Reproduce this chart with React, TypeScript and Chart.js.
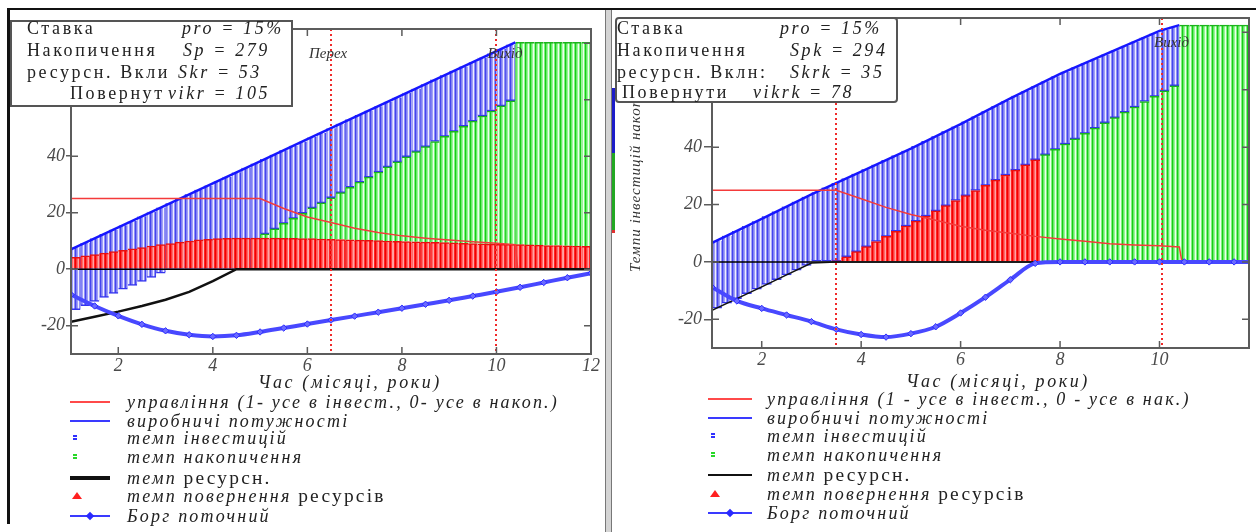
import React, { useEffect, useRef } from "react";
import { Chart, registerables } from "chart.js";

Chart.register(...registerables);

// ---------------- data ----------------
const barX = [1.1, 1.3, 1.5, 1.7, 1.9, 2.1, 2.3, 2.5, 2.7, 2.9, 3.1, 3.3, 3.5, 3.7, 3.9, 4.1, 4.3, 4.5, 4.7, 4.9, 5.1, 5.3, 5.5, 5.7, 5.9, 6.1, 6.3, 6.5, 6.7, 6.9, 7.1, 7.3, 7.5, 7.7, 7.9, 8.1, 8.3, 8.5, 8.7, 8.9, 9.1, 9.3, 9.5, 9.7, 9.9, 10.1, 10.3, 10.5, 10.7, 10.9, 11.1, 11.3, 11.5, 11.7, 11.9];
const lineX = [1, 1.5, 2, 2.5, 3, 3.5, 4, 4.5, 5, 5.5, 6, 6.5, 7, 7.5, 8, 8.5, 9, 9.5, 10, 10.5, 11, 11.5, 12];
const ctrlX = [1, 2, 3, 3.5, 4, 4.5, 5, 5.5, 6, 6.5, 7, 7.5, 8, 8.5, 9, 9.5, 10, 10.4, 10.45, 12];
const capX = [1, 2, 3, 4, 5, 6, 7, 8, 9, 10, 10.4];
const yTicks = [-20, 0, 20, 40, 60, 80];
const leftXTicks = [2, 4, 6, 8, 10, 12];
const rightXTicks = [2, 4, 6, 8, 10];
const markLabels = ["Перех", "Вихід"];
const leftMarks = [6.5, 10];
const rightMarks = [3.5, 10.05];

const N = null;
// left panel
const leftCapacity = [7.8, 9.3, 10.9, 12.5, 14.0, 15.6, 17.1, 18.7, 20.3, 21.8, 23.4, 24.9, 26.5, 28.1, 29.6, 31.2, 32.7, 34.3, 35.9, 37.4, 39.0, 40.5, 42.1, 43.7, 45.2, 46.8, 48.3, 49.9, 51.5, 53.0, 54.6, 56.1, 57.7, 59.3, 60.8, 62.4, 63.9, 65.5, 67.1, 68.6, 70.2, 71.7, 73.3, 74.9, 76.4, 78.0, 79.5, N, N, N, N, N, N, N, N];
const leftInvLow = [-14.3, -12.9, -11.4, -10.0, -8.6, -7.1, -5.7, -4.3, -2.9, -1.4, 0, 0, 0, 0, 0, 0, 0, 0, 0, 0, N, N, N, N, N, N, N, N, N, N, N, N, N, N, N, N, N, N, N, N, N, N, N, N, N, N, N, N, N, N, N, N, N, N, N];
const leftAccTop = [N, N, N, N, N, N, N, N, N, N, N, N, N, N, N, N, N, N, N, N, 12.5, 14.3, 16.2, 18.0, 19.8, 21.7, 23.5, 25.3, 27.1, 29.0, 30.8, 32.6, 34.4, 36.2, 38.0, 39.8, 41.6, 43.4, 45.2, 47.0, 48.8, 50.6, 52.4, 54.2, 56.0, 57.8, 59.6, 80.3, 80.3, 80.3, 80.3, 80.3, 80.3, 80.3, 80.3];
const leftRetTop = [4.2, 4.7, 5.2, 5.7, 6.2, 6.7, 7.2, 7.7, 8.2, 8.7, 9.1, 9.6, 10.0, 10.4, 10.6, 10.8, 10.9, 11.0, 11.0, 11.0, 11.0, 11.0, 10.9, 10.9, 10.8, 10.8, 10.7, 10.6, 10.5, 10.4, 10.3, 10.2, 10.1, 10.0, 9.9, 9.8, 9.7, 9.6, 9.5, 9.4, 9.3, 9.2, 9.1, 9.0, 8.9, 8.8, 8.8, 8.7, 8.6, 8.5, 8.4, 8.4, 8.3, 8.2, 8.1];
const leftDebt = [-9.0, -13.0, -16.5, -19.5, -21.8, -23.2, -23.8, -23.4, -22.2, -20.8, -19.4, -18.0, -16.6, -15.2, -13.8, -12.4, -11.0, -9.5, -8.0, -6.4, -4.7, -3.0, -1.4];
const leftResource = [-18.6, -16.8, -15.0, -13.0, -10.8, -8.0, -4.2, 0, 0, 0, 0, 0, 0, 0, 0, 0, 0, 0, 0, 0, 0, 0, 0];
const leftControl = [25, 25, 25, 25, 25, 25, 25, 21.5, 18.5, 16.5, 14.5, 13.0, 11.8, 11.0, 10.3, 9.7, 9.2, 8.7, 0, 0];
const leftCapLine = [7.0, 14.8, 22.6, 30.4, 38.2, 46.0, 53.8, 61.6, 69.4, 77.2, 80.3];

// right panel
const rightCapacity = [7.4, 9.1, 10.8, 12.5, 14.2, 15.9, 17.6, 19.3, 21.0, 22.7, 24.3, 25.9, 27.5, 29.1, 30.7, 32.3, 33.9, 35.5, 37.1, 38.7, 40.4, 42.1, 43.8, 45.5, 47.2, 48.9, 50.7, 52.5, 54.3, 56.1, 57.9, 59.6, 61.3, 63.0, 64.7, 66.3, 67.8, 69.3, 70.8, 72.3, 73.8, 75.3, 76.8, 78.3, 79.8, 81.0, 82.0, N, N, N, N, N, N, N, N];
const rightInvLow = [-16.1, -14.4, -12.8, -11.1, -9.5, -7.8, -6.2, -4.5, -2.9, -1.2, 0, 0, 0, N, N, N, N, N, N, N, N, N, N, N, N, N, N, N, N, N, N, N, N, N, N, N, N, N, N, N, N, N, N, N, N, N, N, N, N, N, N, N, N, N, N];
const rightRetTop = [N, N, N, N, N, N, N, N, N, N, N, N, 0.4, 1.8, 3.6, 5.3, 7.1, 8.9, 10.7, 12.5, 14.2, 16.0, 17.8, 19.6, 21.4, 23.1, 24.9, 26.7, 28.5, 30.3, 32.0, 33.8, 35.6, N, N, N, N, N, N, N, N, N, N, N, N, N, N, N, N, N, N, N, N, N, N];
const rightAccTop = [N, N, N, N, N, N, N, N, N, N, N, N, N, N, N, N, N, N, N, N, N, N, N, N, N, N, N, N, N, N, N, N, N, 37.4, 39.2, 41.1, 42.9, 44.8, 46.6, 48.5, 50.3, 52.2, 54.0, 55.9, 57.7, 59.6, 61.4, 82.5, 82.5, 82.5, 82.5, 82.5, 82.5, 82.5, 82.5];
const rightDebt = [-8.8, -13.6, -16.2, -18.5, -20.8, -23.5, -25.3, -26.2, -25.0, -22.6, -17.8, -12.3, -6.2, -0.5, 0, 0, 0, 0, 0, 0, 0, 0, 0];
const rightResource = [-16.9, -12.8, -8.7, -4.5, -0.4, 0, 0, 0, 0, 0, 0, 0, 0, 0, 0, 0, 0, 0, 0, 0, 0, 0, 0];
const rightControl = [25, 25, 25, 25, 22.0, 19.0, 16.5, 14.5, 12.4, 11.0, 10.0, 8.9, 8.0, 7.2, 6.3, 5.9, 5.6, 5.2, 0, 0];
const rightCapLine = [6.6, 15.0, 23.5, 31.5, 39.5, 48.0, 57.0, 65.5, 73.0, 80.5, 82.5];

// texts
const axisTitle = "Час (місяці, роки)";
const rightYTitle = "Темпи інвестицій накопичення";
const leftLegend = [
  "управління (1- усе в інвест., 0- усе в накоп.)",
  "виробничі потужності",
  "темп інвестицій",
  "темп накопичення",
  "темп ресурсн.",
  "темп повернення ресурсів",
  "Борг поточний",
];
const rightLegend = [
  "управління (1 - усе в інвест., 0 - усе в нак.)",
  "виробничі потужності",
  "темп інвестицій",
  "темп накопичення",
  "темп ресурсн.",
  "темп повернення ресурсів",
  "Борг поточний",
];
const leftInfoNames = ["Ставка", "Накопичення", "ресурсн. Вкли", "Повернут"];
const leftInfoValues = ["pro = 15%", "Sp = 279", "Skr = 53", "vikr = 105"];
const rightInfoNames = ["Ставка", "Накопичення", "ресурсн. Вклн:", "Повернути"];
const rightInfoValues = ["pro = 15%", "Spk = 294", "Skrk = 35", "vikrk = 78"];

// ---------------- styles ----------------
const SERIF = '"Liberation Serif", serif';
const BLUE_STRIPES = ["#4444ee", "#8080f4", "#a0a0f7", "#eeeeff", "#9090f5"];
const GREEN_STRIPES = ["#18cc18", "#66ec66", "#98f498", "#eeffee", "#80f080"];
const RED_STRIPES = ["#f20000", "#ff3a3a", "#ff6a6a", "#ffa4a4", "#ff2424"];
const LBL_RED = "темп повернення ресурсів";

function makePattern(colors: string[]) {
  const c = document.createElement("canvas");
  c.width = colors.length;
  c.height = 1;
  const g = c.getContext("2d")!;
  colors.forEach((col, i) => {
    g.fillStyle = col;
    g.fillRect(i, 0, 1, 1);
  });
  return g.createPattern(c, "repeat")!;
}

function makeFramePlugin(marks: number[], labelDx: number[]) {
  return {
    id: "mcFrame",
    afterDatasetDraw(chart: any, args: any) {
      const ds = chart.data.datasets[args.index];
      if (ds.label !== LBL_RED) return;
      const { ctx, chartArea: a } = chart;
      const y0 = chart.scales.y.getPixelForValue(0);
      ctx.save();
      ctx.strokeStyle = "#000";
      ctx.lineWidth = 1.5;
      ctx.beginPath();
      ctx.moveTo(a.left, y0);
      ctx.lineTo(a.right, y0);
      ctx.stroke();
      ctx.restore();
    },
    afterDatasetsDraw(chart: any) {
      const { ctx, chartArea: a, scales } = chart;
      const x = scales.x;
      const y = scales.y;
      ctx.save();
      ctx.strokeStyle = "#f02a2a";
      ctx.lineWidth = 2;
      ctx.setLineDash([2, 3]);
      marks.forEach((m) => {
        const px = Math.round(x.getPixelForValue(m));
        ctx.beginPath();
        ctx.moveTo(px, a.top);
        ctx.lineTo(px, a.bottom);
        ctx.stroke();
      });
      ctx.setLineDash([]);
      ctx.font = `italic 15px ${SERIF}`;
      ctx.fillStyle = "#333";
      ctx.textBaseline = "middle";
      marks.forEach((m, i) => {
        const px = x.getPixelForValue(m);
        ctx.fillText(markLabels[i], px + labelDx[i], a.top + 25);
      });
      ctx.strokeStyle = "#5c5c5c";
      ctx.lineWidth = 2;
      ctx.strokeRect(a.left, a.top, a.right - a.left, a.bottom - a.top);
      ctx.lineWidth = 1.5;
      ctx.beginPath();
      x.ticks.forEach((t: any) => {
        const px = x.getPixelForValue(t.value);
        ctx.moveTo(px, a.bottom);
        ctx.lineTo(px, a.bottom - 7);
        ctx.moveTo(px, a.top);
        ctx.lineTo(px, a.top + 7);
      });
      y.ticks.forEach((t: any) => {
        const py = y.getPixelForValue(t.value);
        ctx.moveTo(a.left, py);
        ctx.lineTo(a.left + 7, py);
        ctx.moveTo(a.right, py);
        ctx.lineTo(a.right - 7, py);
      });
      ctx.stroke();
      ctx.restore();
    },
  };
}

type Side = {
  left: number;
  width: number;
  padding: { left: number; top: number; right: number; bottom: number };
  xMax: number;
  xTicks: number[];
  marks: number[];
  labelDx: number[];
  tickLen: number;
  tickPad: number;
  capacity: (number | null)[];
  invLow: (number | null)[];
  accTop: (number | null)[];
  retTop: (number | null)[];
  debt: number[];
  resource: number[];
  control: number[];
  capLine: number[];
  greenOnRed: boolean;
  resWidth: number;
};

const leftSide: Side = {
  left: 0, width: 612, padding: { left: 26, top: 29, right: 21, bottom: 0 },
  xMax: 12, xTicks: leftXTicks, marks: leftMarks, labelDx: [-22, -9], tickLen: 5, tickPad: 1,
  capacity: leftCapacity, invLow: leftInvLow, accTop: leftAccTop, retTop: leftRetTop,
  debt: leftDebt, resource: leftResource, control: leftControl, capLine: leftCapLine,
  greenOnRed: true, resWidth: 2.5,
};
const rightSide: Side = {
  left: 612, width: 644, padding: { left: 55, top: 18, right: 7, bottom: 6 },
  xMax: 11.8, xTicks: rightXTicks, marks: rightMarks, labelDx: [-22, -8], tickLen: 8, tickPad: 2,
  capacity: rightCapacity, invLow: rightInvLow, accTop: rightAccTop, retTop: rightRetTop,
  debt: rightDebt, resource: rightResource, control: rightControl, capLine: rightCapLine,
  greenOnRed: false, resWidth: 1.5,
};

function buildConfig(s: Side): any {
  const font = { family: SERIF, style: "italic", size: 18 };
  const barCommon = { grouped: false, barPercentage: 1, categoryPercentage: 1, borderSkipped: false };
  const datasets: any[] = [
    {
      type: "line", label: "Борг поточний", order: 0,
      data: lineX.map((x, i) => ({ x, y: s.debt[i] })),
      borderColor: "#4848ff", borderWidth: 4, cubicInterpolationMode: "monotone",
      pointStyle: "rectRot", pointRadius: 3.2, pointBackgroundColor: "#6a6aff",
      pointBorderColor: "#2a2aff", pointBorderWidth: 1,
    },
    {
      type: "line", label: "темп ресурсн.", order: 1,
      data: lineX.map((x, i) => ({ x, y: s.resource[i] })),
      borderColor: "#111", borderWidth: s.resWidth, pointRadius: 0,
    },
    {
      type: "line", label: "управління", order: 2,
      data: ctrlX.map((x, i) => ({ x, y: s.control[i] })),
      borderColor: "#f43a3a", borderWidth: 1.5, pointRadius: 0,
    },
    {
      type: "line", label: "виробничі потужності", order: 3,
      data: capX.map((x, i) => ({ x, y: s.capLine[i] })),
      borderColor: "#1616ff", borderWidth: 2.5, pointRadius: 0,
    },
    {
      type: "bar", label: LBL_RED, order: 4, ...barCommon,
      data: barX.map((x, i) => ({ x, y: s.retTop[i] == null ? null : [0, s.retTop[i]] })),
      backgroundColor: makePattern(RED_STRIPES), borderColor: "#e81010",
      borderWidth: { top: 1.5, left: 0, right: 0, bottom: 0 },
    },
    {
      type: "bar", label: "темп накопичення", order: 5, ...barCommon,
      data: barX.map((x, i) => ({
        x,
        y: s.accTop[i] == null ? null : [s.greenOnRed ? (s.retTop[i] ?? 0) : 0, s.accTop[i]],
      })),
      backgroundColor: makePattern(GREEN_STRIPES), borderColor: "#1cb41c",
      borderWidth: { top: 1.5, left: 0, right: 0, bottom: 0 },
    },
    {
      type: "bar", label: "темп інвестицій", order: 6, ...barCommon,
      data: barX.map((x, i) => {
        const hi = s.capacity[i];
        if (hi == null) return { x, y: null };
        const lo = s.accTop[i] ?? s.invLow[i] ?? s.retTop[i] ?? 0;
        return { x, y: [lo, hi] };
      }),
      backgroundColor: makePattern(BLUE_STRIPES), borderColor: "#3434f0",
      borderWidth: { top: 0, left: 0, right: 0, bottom: 1.5 },
    },
  ];
  return {
    type: "bar",
    data: { datasets },
    options: {
      responsive: false,
      animation: false,
      devicePixelRatio: 1,
      layout: { padding: s.padding },
      plugins: { legend: { display: false }, tooltip: { enabled: false } },
      scales: {
        x: {
          type: "linear", min: 1, max: s.xMax, offset: false,
          afterBuildTicks: (sc: any) => { sc.ticks = s.xTicks.map((v) => ({ value: v })); },
          afterFit: (sc: any) => { sc.height = 26; },
          grid: { display: false, drawTicks: false },
          border: { display: true, color: "#5c5c5c", width: 2 },
          ticks: { font, color: "#4a4a4a", padding: 1, maxRotation: 0, autoSkip: false, callback: (v: any) => String(v) },
        },
        y: {
          type: "linear", min: -30, max: 85,
          afterBuildTicks: (sc: any) => { sc.ticks = yTicks.map((v) => ({ value: v })); },
          afterFit: (sc: any) => { sc.width = 45; },
          grid: { drawOnChartArea: false, drawTicks: true, tickLength: s.tickLen, color: "#5c5c5c", lineWidth: 1.5 },
          border: { display: true, color: "#5c5c5c", width: 2 },
          ticks: { font, color: "#4a4a4a", padding: s.tickPad, callback: (v: any) => String(v) },
        },
      },
    },
    plugins: [makeFramePlugin(s.marks, s.labelDx)],
  };
}

function McChart({ side }: { side: Side }) {
  const ref = useRef<HTMLCanvasElement>(null);
  useEffect(() => {
    const chart = new Chart(ref.current!, buildConfig(side));
    return () => chart.destroy();
  }, [side]);
  return (
    <canvas
      ref={ref}
      width={side.width}
      height={380}
      style={{ position: "absolute", left: side.left, top: 0, width: side.width, height: 380 }}
    />
  );
}

function Styled({ text, upScale = 1.08 }: { text: string; upScale?: number }) {
  const parts = text.split(/(ресурс\S*)/);
  return (
    <>
      {parts.map((p, i) =>
        p.startsWith("ресурс") ? (
          <span key={i} style={{ fontStyle: "normal", fontSize: `${upScale}em` }}>{p}</span>
        ) : (
          <span key={i}>{p}</span>
        )
      )}
    </>
  );
}

const LEG_KINDS = ["line", "line", "dot", "dot", "thick", "tri", "diamond"];
const LEG_COLORS = ["#ff4a4a", "#3a3aff", "#3030ff", "#28d828", "#111", "#ff2020", "#3a3aff"];

function Legend({ texts, x0, x1, tx, ys, thick }: { texts: string[]; x0: number; x1: number; tx: number; ys: number[]; thick: number }) {
  return (
    <>
      {texts.map((t, i) => {
        const yc = ys[i];
        const kind = LEG_KINDS[i];
        const color = LEG_COLORS[i];
        let sample: any = null;
        if (kind === "line") {
          sample = <div style={{ position: "absolute", left: x0, top: yc - 1, width: x1 - x0, height: 2, background: color }} />;
        } else if (kind === "thick") {
          sample = <div style={{ position: "absolute", left: x0, top: yc - thick / 2, width: x1 - x0, height: thick, background: color }} />;
        } else if (kind === "dot") {
          sample = <div style={{ position: "absolute", left: x0 + 3, top: yc - 3, width: 4, height: 6, background: `repeating-linear-gradient(${color} 0 2px, #ffffff 2px 3px)` }} />;
        } else if (kind === "tri") {
          sample = <div style={{ position: "absolute", left: x0 + 2, top: yc - 4, width: 0, height: 0, borderLeft: "5px solid transparent", borderRight: "5px solid transparent", borderBottom: `7px solid ${color}` }} />;
        } else {
          const cx = (x0 + x1) / 2;
          sample = (
            <>
              <div style={{ position: "absolute", left: x0, top: yc - 1, width: x1 - x0, height: 2, background: color }} />
              <div style={{ position: "absolute", left: cx - 3, top: yc - 3, width: 6, height: 6, background: "#2a2aff", transform: "rotate(45deg)" }} />
            </>
          );
        }
        return (
          <React.Fragment key={i}>
            {sample}
            <div style={{ position: "absolute", left: tx, top: yc - 11, height: 22, lineHeight: "22px", whiteSpace: "nowrap", fontFamily: SERIF, fontStyle: "italic", fontSize: 18, letterSpacing: "2.2px", color: "#222" }}>
              <Styled text={t} />
            </div>
          </React.Fragment>
        );
      })}
    </>
  );
}

function InfoBox({ box, names, values, nameXs, valueXs, ys, radius }: any) {
  return (
    <div style={{ position: "absolute", left: box.left, top: box.top, width: box.width, height: box.height, boxSizing: "border-box", border: "2px solid #555", borderRadius: radius, background: "#fff" }}>
      {names.map((n: string, i: number) => (
        <React.Fragment key={i}>
          <div style={{ position: "absolute", left: nameXs[i] - box.left - 2, top: ys[i] - box.top - 2 - 11, lineHeight: "22px", whiteSpace: "nowrap", fontFamily: SERIF, fontSize: 18, letterSpacing: "2.6px", color: "#222" }}>
            <Styled text={n} upScale={1} />
          </div>
          <div style={{ position: "absolute", left: valueXs[i] - box.left - 2, top: ys[i] - box.top - 2 - 11, lineHeight: "22px", whiteSpace: "nowrap", fontFamily: SERIF, fontStyle: "italic", fontSize: 18, letterSpacing: "2.6px", color: "#222" }}>
            {values[i]}
          </div>
        </React.Fragment>
      ))}
    </div>
  );
}

export default function App() {
  const abs = (s: any) => ({ position: "absolute" as const, ...s });
  return (
    <div style={{ position: "absolute", left: 0, top: 0, width: 1256, height: 532, overflow: "hidden", background: "#fff" }}>
      <McChart side={leftSide} />
      <McChart side={rightSide} />

      {/* frame lines */}
      <div style={abs({ left: 7, top: 8, width: 1249, height: 2, background: "#111" })} />
      <div style={abs({ left: 7, top: 8, width: 3, height: 516, background: "#111" })} />
      <div style={abs({ left: 605, top: 10, width: 7, height: 522, boxSizing: "border-box", background: "#d4d4d4", borderLeft: "1px solid #777", borderRight: "1px solid #777" })} />
      <div style={abs({ left: 612, top: 88, width: 3, height: 65, background: "#1c1cc8" })} />
      <div style={abs({ left: 612, top: 153, width: 3, height: 77, background: "#22a822" })} />
      <div style={abs({ left: 612, top: 230, width: 3, height: 3, background: "#e03030" })} />

      {/* right y title */}
      <div style={abs({ left: 627, top: 272, transform: "rotate(-90deg)", transformOrigin: "0 0", whiteSpace: "nowrap", fontFamily: SERIF, fontStyle: "italic", fontSize: 15, letterSpacing: "1px", lineHeight: "16px", color: "#333" })}>
        {rightYTitle}
      </div>

      {/* info boxes */}
      <InfoBox box={{ left: 10, top: 20, width: 283, height: 87 }} names={leftInfoNames} values={leftInfoValues}
        nameXs={[27, 27, 27, 70]} valueXs={[182, 183, 178, 168]} ys={[28, 50, 72, 93]} radius={0} />
      <InfoBox box={{ left: 615, top: 17, width: 283, height: 86 }} names={rightInfoNames} values={rightInfoValues}
        nameXs={[617, 617, 617, 622]} valueXs={[780, 790, 790, 753]} ys={[28, 50, 72, 92]} radius={4} />

      {/* axis titles */}
      <div style={abs({ left: 230, top: 372, width: 240, textAlign: "center", whiteSpace: "nowrap", fontFamily: SERIF, fontStyle: "italic", fontSize: 18, letterSpacing: "2.6px", color: "#222" })}>{axisTitle}</div>
      <div style={abs({ left: 878, top: 371, width: 240, textAlign: "center", whiteSpace: "nowrap", fontFamily: SERIF, fontStyle: "italic", fontSize: 18, letterSpacing: "2.6px", color: "#222" })}>{axisTitle}</div>

      {/* legends */}
      <Legend texts={leftLegend} x0={70} x1={110} tx={127} ys={[402, 421, 438, 457, 478, 496, 516]} thick={3.5} />
      <Legend texts={rightLegend} x0={708} x1={752} tx={767} ys={[399, 418, 436, 455, 475, 494, 513]} thick={2} />
    </div>
  );
}
